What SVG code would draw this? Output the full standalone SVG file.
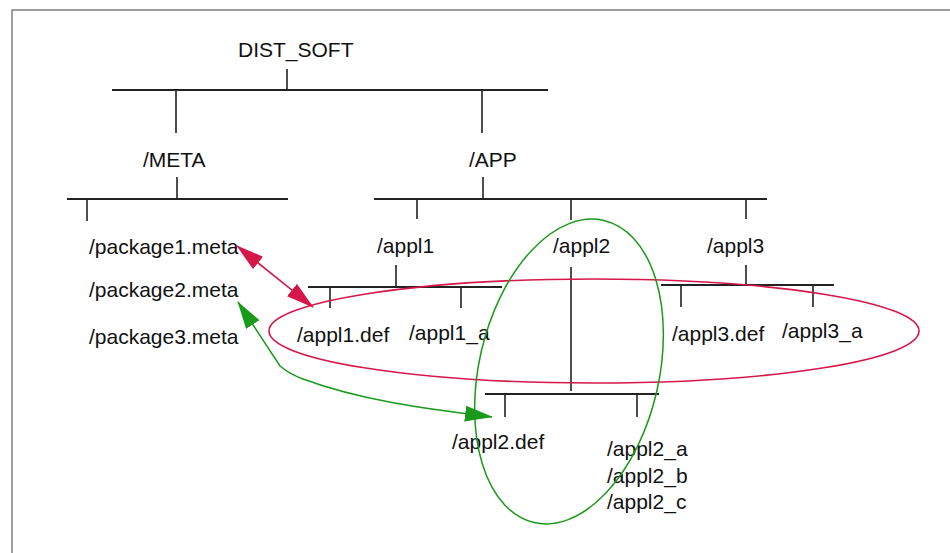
<svg xmlns="http://www.w3.org/2000/svg" width="950" height="553" viewBox="0 0 950 553">
<defs>
<style>
text{font-family:"Liberation Sans",Arial,Helvetica,sans-serif;font-size:21px;fill:#111}
.t{stroke:#222;stroke-width:1.6;fill:none}
.h{stroke:#222;stroke-width:2;fill:none}
.red{stroke:#d5174a;stroke-width:1.6;fill:none}
.grn{stroke:#1a9a1a;stroke-width:1.5;fill:none}
</style>
<marker id="ar" viewBox="0 0 28 16" refX="27" refY="8" markerWidth="28" markerHeight="16" markerUnits="userSpaceOnUse" orient="auto-start-reverse"><path d="M0,0 L28,8 L0,16 z" fill="#d5174a"/></marker>
<marker id="ag" viewBox="0 0 28 16" refX="27" refY="8" markerWidth="28" markerHeight="16" markerUnits="userSpaceOnUse" orient="auto-start-reverse"><path d="M0,0 L28,8 L0,16 z" fill="#1a9a1a"/></marker>
</defs>
<rect x="12" y="10" width="1000" height="1000" fill="#fff" stroke="#808080" stroke-width="1.5"/>
<g id="connectors">
<path class="t" d="M287,69 V90"/>
<path class="h" d="M112,90 H548"/>
<path class="t" d="M176,90 V133 M482,90 V133"/>
<path class="t" d="M177,177 V199"/>
<path class="h" d="M67,199 H288"/>
<path class="t" d="M87,199 V221"/>
<path class="t" d="M483,177 V199"/>
<path class="h" d="M374,199 H767"/>
<path class="t" d="M417,199 V219 M571,199 V220 M746,199 V219"/>
<path class="t" d="M396,265 V287"/>
<path class="h" d="M308,287 H502"/>
<path class="t" d="M330,287 V308 M461,287 V308"/>
<path class="t" d="M571,267 V391"/>
<path class="h" d="M485,394 H659"/>
<path class="t" d="M505,394 V417 M637,394 V417"/>
<path class="t" d="M746,265 V285"/>
<path class="h" d="M661,285 H834"/>
<path class="t" d="M681,285 V307 M813,285 V307"/>
</g>
<g id="DIST_SOFT"><text x="238" y="57">DIST_SOFT</text></g>
<g id="META"><text x="143" y="167">/META</text></g>
<g id="APP"><text x="469" y="167">/APP</text></g>
<g id="package1"><text x="89" y="254">/package1.meta</text></g>
<g id="package2"><text x="89" y="297">/package2.meta</text></g>
<g id="package3"><text x="89" y="344">/package3.meta</text></g>
<g id="appl1"><text x="377" y="253">/appl1</text></g>
<g id="appl2"><text x="553" y="253">/appl2</text></g>
<g id="appl3"><text x="707" y="253">/appl3</text></g>
<g id="appl1def"><text x="297" y="342">/appl1.def</text></g>
<g id="appl1a"><text x="409" y="340">/appl1_a</text></g>
<g id="appl3def"><text x="672" y="341">/appl3.def</text></g>
<g id="appl3a"><text x="782" y="338">/appl3_a</text></g>
<g id="appl2def"><text x="452" y="449">/appl2.def</text></g>
<g id="appl2abc"><text x="607" y="456">/appl2_a</text><text x="607" y="483">/appl2_b</text><text x="607" y="509">/appl2_c</text></g>
<g id="groups">
<ellipse class="red" cx="594" cy="331" rx="325" ry="52"/>
<ellipse class="grn" cx="569" cy="371.5" rx="90" ry="155" transform="rotate(13 569 371.5)"/>
</g>
<g id="links">
<path class="red" d="M237,246 L313,307" marker-start="url(#ar)" marker-end="url(#ar)"/>
<path class="grn" d="M238,302 L280,366 C288,373 295,376 303,379 C360,400 420,408 492,417" marker-start="url(#ag)" marker-end="url(#ag)"/>
</g>
</svg>
